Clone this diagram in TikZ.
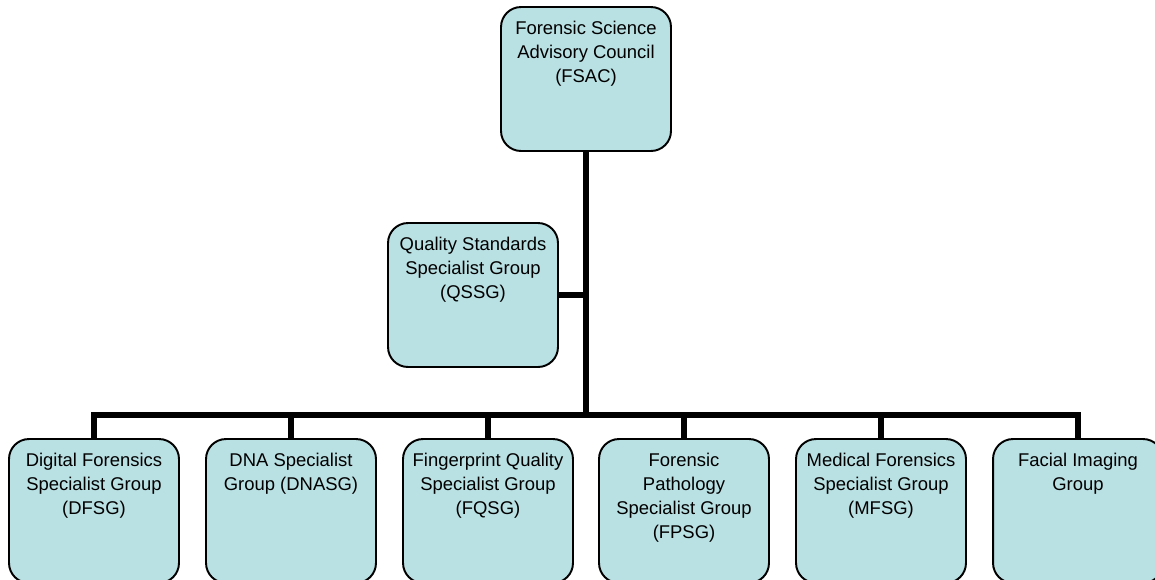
\documentclass[tikz,border=0pt]{standalone}
\usepackage{fontspec}
\setmainfont{Liberation Sans}
\definecolor{grpblue}{RGB}{185,224,227}
\newcommand{\grptxt}[1]{\parbox[c][2.32cm][t]{3.3cm}{\centering #1}}
\begin{document}
\begin{tikzpicture}[x=0.02cm,y=-0.02cm,
  grp/.style={draw=black,fill=grpblue,line width=1.1pt,rounded corners=0.4cm,
    inner xsep=0.05cm,inner ysep=0.28cm,minimum width=3.4cm,minimum height=2.88cm,
    font=\fontsize{10.5}{13.7}\selectfont},
  link/.style={line width=3.2pt,line join=miter}]
\useasboundingbox (0,0) rectangle (1155,579);
\node[grp] (fsac) at (586,79) {\grptxt{Forensic Science\\Advisory Council\\(FSAC)}};
\node[grp] (qssg) at (473,295) {\grptxt{Quality Standards\\Specialist Group\\(QSSG)}};
\node[grp] (dfsg) at (94,511) {\grptxt{Digital Forensics\\Specialist Group\\(DFSG)}};
\node[grp] (dnasg) at (291,511) {\grptxt{DNA Specialist\\Group (DNASG)}};
\node[grp] (fqsg) at (488,511) {\grptxt{Fingerprint Quality\\Specialist Group\\(FQSG)}};
\node[grp] (fpsg) at (684,511) {\grptxt{Forensic\\Pathology\\Specialist Group\\(FPSG)}};
\node[grp] (mfsg) at (881,511) {\grptxt{Medical Forensics\\Specialist Group\\(MFSG)}};
\node[grp] (fig) at (1078,511) {\grptxt{Facial Imaging\\Group}};
% trunk and bus
\coordinate (bus) at (586,415);
\draw[link] (fsac.south) -- (bus);
\draw[link] (qssg.east) -- (qssg.east -| bus);
\foreach \g in {dfsg,dnasg,fqsg,fpsg,mfsg,fig}
  \draw[link] (bus) -| (\g.north);
\end{tikzpicture}
\end{document}
